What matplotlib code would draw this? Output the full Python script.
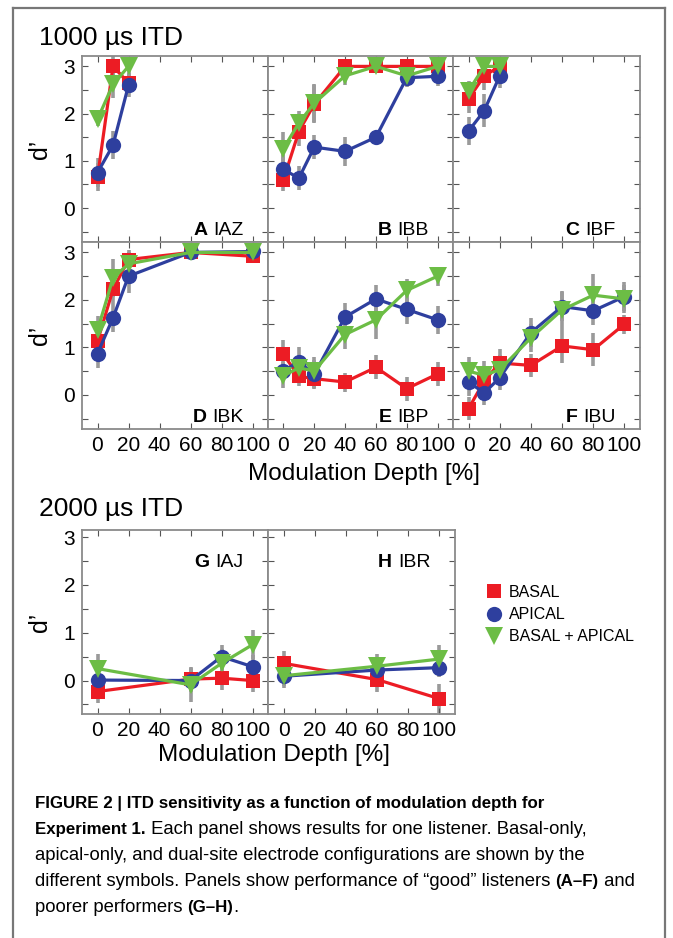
import matplotlib
matplotlib.use("Agg")
import matplotlib.pyplot as plt
from matplotlib.lines import Line2D

plt.rcParams['font.family'] = ['Liberation Sans', 'DejaVu Sans']

# ---------------- data ----------------
series_names = ["BASAL", "APICAL", "BASAL + APICAL"]

A_x = [0, 10, 20]
A_basal = [0.65, 3.0, 2.65]
A_apical = [0.75, 1.33, 2.6]
A_dual = [1.88, 2.62, 3.0]
A_basal_err = [0.3, 0.25, 0.2]
A_apical_err = [0.3, 0.3, 0.25]
A_dual_err = [0.15, 0.3, 0.15]

B_x = [0, 10, 20, 40, 60, 80, 100]
B_basal = [0.6, 1.62, 2.2, 3.0, 3.0, 3.0, 3.0]
B_apical = [0.82, 0.63, 1.29, 1.2, 1.5, 2.76, 2.79]
B_dual = [1.26, 1.8, 2.22, 2.8, 3.0, 2.8, 3.0]
B_basal_err = [0.25, 0.3, 0.4, 0.1, 0.1, 0.1, 0.1]
B_apical_err = [0.3, 0.25, 0.25, 0.3, 0.1, 0.2, 0.2]
B_dual_err = [0.35, 0.25, 0.4, 0.2, 0.1, 0.2, 0.1]

C_x = [0, 10, 20]
C_basal = [2.31, 2.8, 3.0]
C_apical = [1.63, 2.06, 2.8]
C_dual = [2.48, 3.0, 3.0]
C_basal_err = [0.3, 0.3, 0.1]
C_apical_err = [0.3, 0.35, 0.25]
C_dual_err = [0.2, 0.2, 0.1]

D_x = [0, 10, 20, 60, 100]
D_basal = [1.13, 2.22, 2.85, 3.0, 2.92]
D_apical = [0.87, 1.62, 2.5, 3.0, 3.02]
D_dual = [1.36, 2.46, 2.76, 3.0, 3.0]
D_basal_err = [0.25, 0.3, 0.2, 0.1, 0.12]
D_apical_err = [0.3, 0.3, 0.35, 0.1, 0.1]
D_dual_err = [0.3, 0.4, 0.25, 0.1, 0.1]

E_x = [0, 10, 20, 40, 60, 80, 100]
E_basal = [0.85, 0.39, 0.34, 0.27, 0.58, 0.13, 0.44]
E_apical = [0.5, 0.7, 0.43, 1.64, 2.02, 1.8, 1.58]
E_dual = [0.4, 0.57, 0.5, 1.27, 1.58, 2.2, 2.5]
E_basal_err = [0.3, 0.2, 0.2, 0.2, 0.25, 0.25, 0.25]
E_apical_err = [0.2, 0.3, 0.3, 0.3, 0.3, 0.3, 0.3]
E_dual_err = [0.25, 0.25, 0.3, 0.3, 0.4, 0.25, 0.2]

F_x = [0, 10, 20, 40, 60, 80, 100]
F_basal = [-0.29, 0.29, 0.67, 0.62, 1.03, 0.95, 1.49]
F_apical = [0.27, 0.04, 0.36, 1.31, 1.86, 1.77, 2.07]
F_dual = [0.5, 0.41, 0.53, 1.2, 1.79, 2.1, 2.02]
F_basal_err = [0.25, 0.3, 0.3, 0.25, 0.35, 0.35, 0.2]
F_apical_err = [0.3, 0.25, 0.25, 0.3, 0.3, 0.3, 0.3]
F_dual_err = [0.3, 0.3, 0.3, 0.3, 0.4, 0.45, 0.3]

G_x = [0, 60, 80, 100]
G_basal = [-0.23, 0.03, 0.05, 0.0]
G_apical = [0.01, 0.0, 0.5, 0.29]
G_dual = [0.25, -0.09, 0.36, 0.75]
G_basal_err = [0.25, 0.25, 0.25, 0.25]
G_apical_err = [0.2, 0.25, 0.25, 0.25]
G_dual_err = [0.3, 0.35, 0.3, 0.3]

H_x = [0, 60, 100]
H_basal = [0.36, 0.02, -0.38]
H_apical = [0.09, 0.22, 0.27]
H_dual = [0.1, 0.3, 0.45]
H_basal_err = [0.25, 0.25, 0.3]
H_apical_err = [0.2, 0.2, 0.2]
H_dual_err = [0.25, 0.25, 0.3]

panel_letters = ["A", "B", "C", "D", "E", "F", "G", "H"]
panel_names = ["IAZ", "IBB", "IBF", "IBK", "IBP", "IBU", "IAJ", "IBR"]
xticks = [0, 20, 40, 60, 80, 100]
yticks = [0, 1, 2, 3]

panels = [
    (A_x, A_basal, A_apical, A_dual, A_basal_err, A_apical_err, A_dual_err),
    (B_x, B_basal, B_apical, B_dual, B_basal_err, B_apical_err, B_dual_err),
    (C_x, C_basal, C_apical, C_dual, C_basal_err, C_apical_err, C_dual_err),
    (D_x, D_basal, D_apical, D_dual, D_basal_err, D_apical_err, D_dual_err),
    (E_x, E_basal, E_apical, E_dual, E_basal_err, E_apical_err, E_dual_err),
    (F_x, F_basal, F_apical, F_dual, F_basal_err, F_apical_err, F_dual_err),
    (G_x, G_basal, G_apical, G_dual, G_basal_err, G_apical_err, G_dual_err),
    (H_x, H_basal, H_apical, H_dual, H_basal_err, H_apical_err, H_dual_err),
]

# ---------------- style ----------------
W, H = 673, 938
RED = "#ec1c24"
BLUE = "#2e3f9e"
GREEN = "#6cbd45"
ERR = "#9a9a9a"
SPINE = "#8a8a8a"
styles = [(RED, "s", 10), (BLUE, "o", 11), (GREEN, "v", 12.5)]

fig = plt.figure(figsize=(W / 100, H / 100), dpi=100)
fig.canvas.draw()
renderer = fig.canvas.get_renderer()


def fbox(x0, y0, x1, y1):
    return [x0 / W, 1 - y1 / H, (x1 - x0) / W, (y1 - y0) / H]


boxes = [
    (82, 56, 268, 242), (268, 56, 453, 242), (453, 56, 640, 242),
    (82, 242, 268, 429), (268, 242, 453, 429), (453, 242, 640, 429),
    (82, 530, 268, 714), (268, 530, 455, 714),
]

axes = []
for i, (bx, data) in enumerate(zip(boxes, panels)):
    ax = fig.add_axes(fbox(*bx))
    axes.append(ax)
    xs = data[0]
    ys = data[1:4]
    es = data[4:7]
    for y, e in zip(ys, es):
        ax.errorbar(xs, y, yerr=e, fmt="none", ecolor=ERR, elinewidth=2.6,
                    capsize=0, zorder=1)
    for (c, m, ms), y in zip(styles, ys):
        ax.plot(xs, y, color=c, marker=m, markersize=ms, lw=2.3,
                markeredgewidth=0, zorder=3)
    ax.set_xlim(-10, 110)
    if i < 6:
        ax.set_ylim(-0.72, 3.22)
    else:
        ax.set_ylim(-0.7, 3.15)
    ax.set_xticks(xticks)
    ax.set_yticks(yticks)
    ax.set_yticks([-0.5, 0.5, 1.5, 2.5], minor=True)
    ax.tick_params(which="both", direction="in", top=True, right=True,
                   length=4, width=0.8, color="#555555", labelsize=15, pad=5)
    ax.tick_params(which="minor", length=4)
    for s in ax.spines.values():
        s.set_color(SPINE)
        s.set_linewidth(1.3)
    if i in (0, 3, 6):
        ax.set_ylabel("d’", fontsize=18, labelpad=8)
    else:
        ax.set_yticklabels([])
    if i < 3:
        ax.set_xticklabels([])
    # panel label: name right-aligned, bold letter to its left
    ty = 0.035 if i < 6 else 0.80
    tn = ax.text(0.87, ty, panel_names[i], transform=ax.transAxes, ha="right",
                 va="baseline", fontsize=14)
    wpx = tn.get_window_extent(renderer=renderer).width
    axw = (bx[2] - bx[0])
    ax.text(0.87 - (wpx + 6) / axw, ty, panel_letters[i], transform=ax.transAxes,
            ha="right", va="baseline", fontsize=14, fontweight="bold")

# titles
fig.text(39 / W, 1 - 45 / H, "1000 µs ITD", fontsize=19, va="baseline", ha="left")
fig.text(39 / W, 1 - 516 / H, "2000 µs ITD", fontsize=19, va="baseline", ha="left")
fig.text(364 / W, 1 - 474 / H, "Modulation Depth [%]", fontsize=17.5, va="center", ha="center")
fig.text(274 / W, 1 - 755 / H, "Modulation Depth [%]", fontsize=17.5, va="center", ha="center")

# legend
handles = [Line2D([], [], color=c, marker=m, markersize=ms, lw=0, markeredgewidth=0)
           for c, m, ms in styles]
fig.legend(handles, series_names, loc="upper left",
           bbox_to_anchor=(478 / W, 1 - 577 / H), frameon=False, fontsize=11.5,
           handlelength=1.0, handletextpad=0.45, labelspacing=0.45, borderpad=0)

# border frame (top, left, right)
fig.add_artist(Line2D([13 / W, 13 / W], [0, 1 - 8 / H], color="#777777", lw=1.6))
fig.add_artist(Line2D([665 / W, 665 / W], [0, 1 - 8 / H], color="#777777", lw=1.6))
fig.add_artist(Line2D([13 / W, 665 / W], [1 - 8 / H, 1 - 8 / H], color="#777777", lw=1.6))

# caption with mixed weights
caption = [
    [("FIGURE 2 | ITD sensitivity as a function of modulation depth for", "bold")],
    [("Experiment 1.", "bold"), (" Each panel shows results for one listener. Basal-only,", "normal")],
    [("apical-only, and dual-site electrode configurations are shown by the", "normal")],
    [("different symbols. Panels show performance of \u201cgood\u201d listeners ", "normal"),
     ("(A\u2013F)", "bold"), (" and", "normal")],
    [("poorer performers ", "normal"), ("(G\u2013H)", "bold"), (".", "normal")],
]
line_y = [808, 834, 860, 886, 912]
for runs, yb in zip(caption, line_y):
    x = 35
    for txt, wt in runs:
        fs = 12.2 if wt == "bold" else 13.3
        t = fig.text(x / W, 1 - yb / H, txt, fontsize=fs, fontweight=wt,
                     ha="left", va="baseline")
        bb = t.get_window_extent(renderer=renderer)
        x += bb.width

fig.savefig("out.png", dpi=100)
